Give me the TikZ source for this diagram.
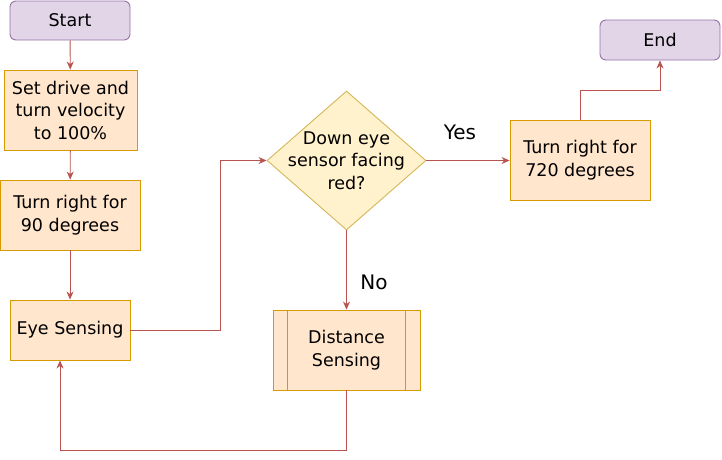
\documentclass[tikz,border=0pt]{standalone}
\usepackage{fontspec}
\setmainfont{DejaVu Sans}
\usetikzlibrary{shapes.geometric,arrows.meta}
\definecolor{pfill}{HTML}{E1D5E7}
\definecolor{pline}{HTML}{9673A6}
\definecolor{ofill}{HTML}{FFE6CC}
\definecolor{oline}{HTML}{D79B00}
\definecolor{yfill}{HTML}{FFF2CC}
\definecolor{yline}{HTML}{D6B656}
\definecolor{aline}{HTML}{B85450}
\tikzset{
  base/.style={font=\fontsize{17.5}{22.5}\selectfont, align=center, inner sep=0pt, line width=0.9pt},
  term/.style={base, draw=pline, fill=pfill, rounded corners=6pt},
  proc/.style={base, draw=oline, fill=ofill},
  dec/.style={base, draw=yline, fill=yfill, diamond, minimum width=159pt, minimum height=139pt, aspect=1.14},
  conn/.style={draw=aline, line width=0.9pt, -{Stealth[length=8pt,width=7pt,inset=2.5pt]}},
  lbl/.style={font=\fontsize{20}{22}\selectfont, inner sep=0pt}
}
\begin{document}
\begin{tikzpicture}[x=1pt,y=-1pt]
\useasboundingbox (0,0) rectangle (722,459);
\node[term, minimum width=120pt, minimum height=39pt] (start) at (70,20.5) {Start};
\node[proc, minimum width=133pt, minimum height=80pt] (set) at (70.5,110) {Set drive and\\turn velocity\\to 100\%};
\node[proc, minimum width=140pt, minimum height=70pt] (t90) at (70,215) {Turn right for\\90 degrees};
\node[proc, minimum width=120pt, minimum height=60pt] (eye) at (70,330) {Eye Sensing};
\node[dec] (down) at (346.5,160.5) {};
\node[base] (downtxt) at (down.center) {Down eye\\sensor facing\\red?};
\node[proc, minimum width=140pt, minimum height=80pt] (t720) at (580,160) {Turn right for\\720 degrees};
\node[term, minimum width=120pt, minimum height=40pt] (end) at (660,40) {End};
\node[proc, minimum width=147pt, minimum height=80pt] (dist) at (346.5,350) {Distance\\Sensing};
\draw[draw=oline, line width=0.9pt] ([xshift=15pt]dist.north west) -- ([xshift=15pt]dist.south west)
  ([xshift=-15pt]dist.north east) -- ([xshift=-15pt]dist.south east);
\node[lbl] (yes) at (460,132) {Yes};
\node[lbl] (no) at (374,282) {No};
\coordinate (c1) at (220,330);
\coordinate (c2) at (220,160.5);
\coordinate (c3) at (580,90);
\coordinate (c4) at (660,90);
\coordinate (c5) at (346.5,450);
\coordinate (c6) at (60,450);
\draw[conn] (start) -- (set);
\draw[conn] (set) -- (t90);
\draw[conn] (t90) -- (eye);
\draw[conn] (eye.east) -- (c1) -- (c2) -- (down.west);
\draw[conn] (down.east) -- (down.east -| t720.west);
\draw[conn] (t720.north) -- (c3) -- (c4) -- (end.south);
\draw[conn] (down.south) -- (dist.north);
\draw[conn] (dist.south) -- (c5) -- (c6) -- (eye.south -| c6);
\end{tikzpicture}
\end{document}
